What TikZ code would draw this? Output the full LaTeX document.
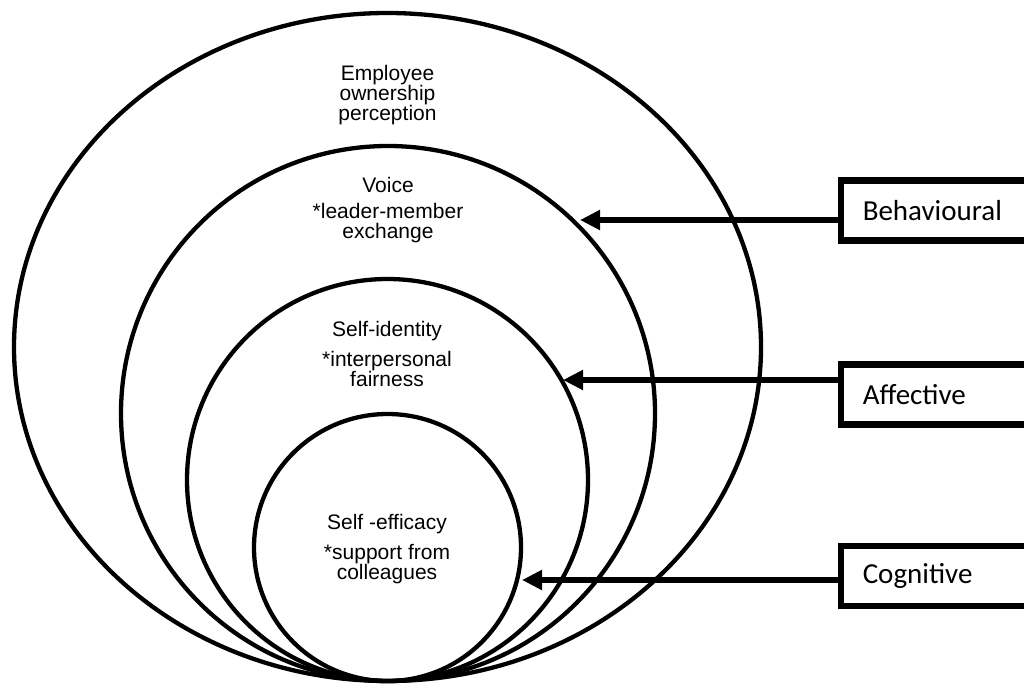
\documentclass[tikz,border=0pt]{standalone}
\usepackage{fontspec}
\setmainfont{Liberation Sans}
\newfontfamily\boxfont{Carlito}
\usetikzlibrary{arrows.meta}

\tikzset{
  ring/.style={line width=4.3pt},
  lbl/.style={font=\fontsize{21}{20}\selectfont, align=center, inner sep=0pt, anchor=base},
  dimbox/.style={draw, line width=6.5pt, anchor=west, minimum height=60pt,
    text width=200pt, align=left, inner xsep=22pt, font=\boxfont\fontsize{29}{30}\selectfont},
  feed/.style={line width=6.5pt, -{Triangle[length=20pt,width=19pt]}}
}

\begin{document}
\begin{tikzpicture}[x=1pt,y=-1pt]
\useasboundingbox (0,0) rectangle (1024,685);
% nested rings, all touching at the bottom
\draw[ring](387.5,347) ellipse [x radius=373.5, y radius=334];
\draw[ring](388,413.5) ellipse [x radius=267, y radius=267.5];
\draw[ring](387.5,480) ellipse [x radius=200.5, y radius=201];
\draw[ring](387.5,547.5) ellipse [x radius=133.5, y radius=133.5];
% ring labels (base = last line)
\node[lbl] (own) at (387.5,120) {Employee\\ownership\\perception};
\node[lbl] (voice) at (388,238) {Voice\\[6pt]*leader-member\\exchange};
\node[lbl] (ident) at (387,386) {Self-identity\\[10pt]*interpersonal\\fairness};
\node[lbl] (effic) at (387,579) {Self -efficacy\\[10pt]*support from\\colleagues};
% dimension boxes
\node[dimbox] (beh) at (837.5,210.5) {Behavioural};
\node[dimbox] (aff) at (837.5,394.3) {Affective};
\node[dimbox] (cog) at (837.5,576) {Cognitive};
% arrow tips on the rings
\coordinate (tipB) at (580,220);
\coordinate (tipA) at (563,380);
\coordinate (tipC) at (522,580);
\draw[feed](tipB -| beh.west)--(tipB);
\draw[feed](tipA -| aff.west)--(tipA);
\draw[feed](tipC -| cog.west)--(tipC);
\end{tikzpicture}
\end{document}
